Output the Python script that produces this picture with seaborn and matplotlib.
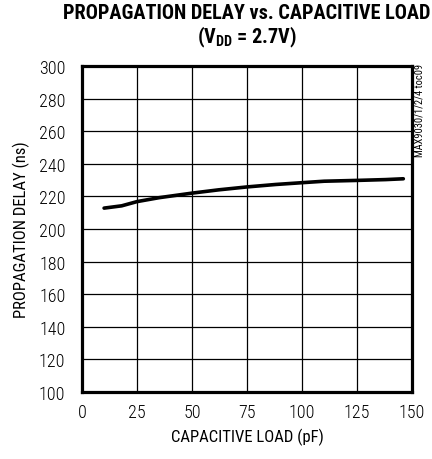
import matplotlib
matplotlib.use("Agg")
import matplotlib.pyplot as plt
import seaborn as sns
import pandas as pd

# values
cap_load_pf = [10, 18, 25, 35, 50, 62, 75, 88, 100, 110, 125, 138, 146]
delay_ns = [212.8, 214.2, 216.8, 219.2, 222.0, 224.0, 225.8, 227.3, 228.4, 229.3, 229.8, 230.3, 230.8]
x_ticks = [0, 25, 50, 75, 100, 125, 150]
y_ticks = [100, 120, 140, 160, 180, 200, 220, 240, 260, 280, 300]

sns.set_style("white")
plt.rcParams["font.family"] = ["Roboto Condensed", "Archivo Narrow", "DejaVu Sans"]
plt.rcParams["font.weight"] = "light"
plt.rcParams["text.color"] = "black"
plt.rcParams["axes.labelcolor"] = "black"
plt.rcParams["xtick.color"] = "black"
plt.rcParams["ytick.color"] = "black"
plt.rcParams["mathtext.fontset"] = "custom"
plt.rcParams["mathtext.rm"] = "Roboto Condensed"
plt.rcParams["mathtext.bf"] = "Roboto Condensed:bold"

df = pd.DataFrame({"cap": cap_load_pf, "delay": delay_ns})

fig = plt.figure(figsize=(4.32, 4.6), dpi=100)
ax = fig.add_axes([0.19, 0.1457, 0.764, 0.7087])

sns.lineplot(data=df, x="cap", y="delay", ax=ax, color="black", linewidth=2.6)

ax.set_xlim(0, 150)
ax.set_ylim(100, 300)
ax.set_xticks(x_ticks)
ax.set_yticks(y_ticks)
ax.grid(True, color="black", linewidth=0.9)
ax.tick_params(axis="both", length=0, labelsize=13)
ax.tick_params(axis="y", pad=12)
ax.tick_params(axis="x", pad=8)
for s in ax.spines.values():
    s.set_visible(True)
    s.set_linewidth(2.3)
    s.set_color("black")

ax.set_xlabel("CAPACITIVE LOAD (pF)", fontsize=12, labelpad=5)
ax.set_ylabel("PROPAGATION DELAY (ns)", fontsize=12, labelpad=6)

fig.text(0.572, 0.970, "PROPAGATION DELAY vs. CAPACITIVE LOAD",
         ha="center", va="center", fontsize=14.6, fontweight="heavy")
fig.text(0.572, 0.919, r"(V$_{\mathbf{DD}}$ = 2.7V)",
         ha="center", va="center", fontsize=14.6, fontweight="heavy")
fig.text(0.972, 0.759, "MAX9030/1/2/4 toc09", rotation=90,
         ha="center", va="center", fontsize=7.5, fontweight="normal")

plt.savefig("out.png", dpi=100)
plt.close()
